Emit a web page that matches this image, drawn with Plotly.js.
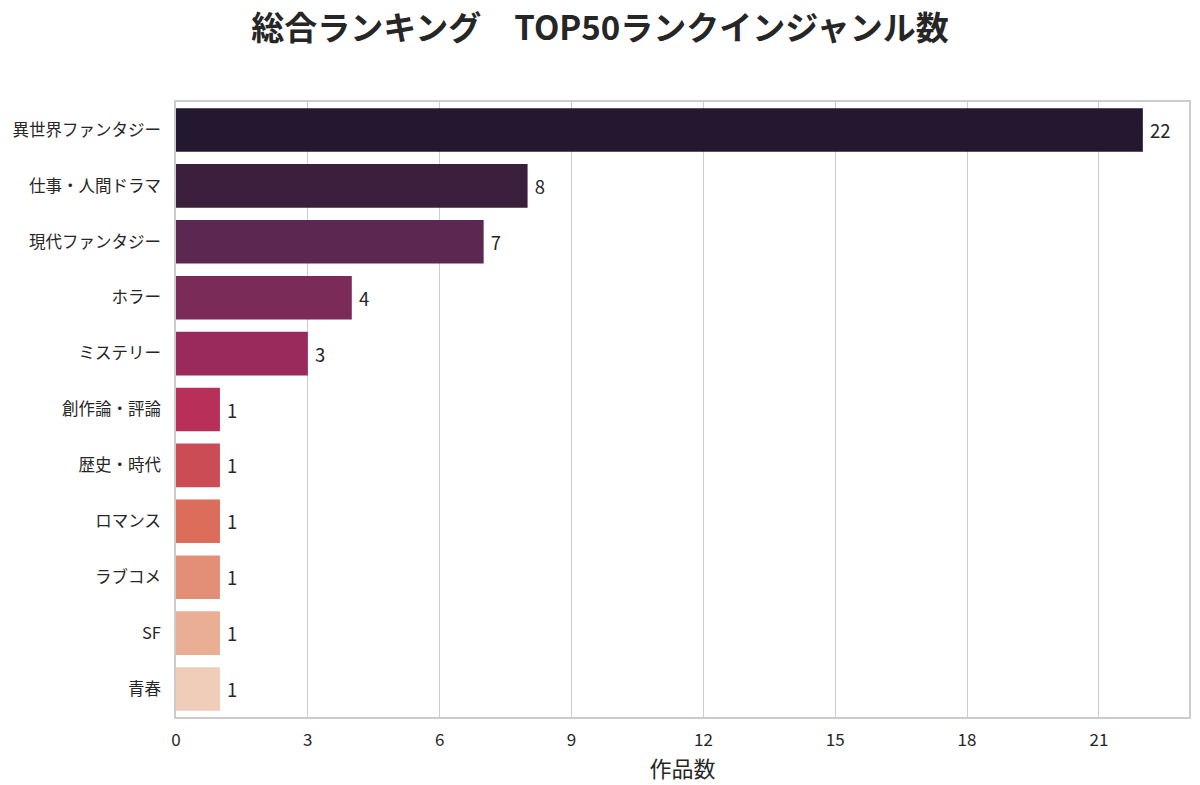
<!DOCTYPE html>
<html>
<head>
<meta charset="utf-8">
<script src="https://cdn.plot.ly/plotly-3.0.1.min.js"></script>
<style>
  body { margin: 0; background: #fff; }
  #chart { width: 1200px; height: 785px; }
</style>
</head>
<body>
<div id="chart"></div>
<script>
// genre counts in the overall ranking top 50
let genres = ['異世界ファンタジー', '仕事・人間ドラマ', '現代ファンタジー', 'ホラー', 'ミステリー',
              '創作論・評論', '歴史・時代', 'ロマンス', 'ラブコメ', 'SF', '青春'];
let counts = [22, 8, 7, 4, 3, 1, 1, 1, 1, 1, 1];
let barColors = ['#231830', '#3c1f3c', '#5c2750', '#7a2b58', '#992a5b', '#b8305a',
                 '#cc4c55', '#dc6d5a', '#e38f77', '#e9ae94', '#efcdb8'];
let xTicks = [0, 3, 6, 9, 12, 15, 18, 21];

let font = '"Noto Sans CJK JP", "Noto Sans", sans-serif';

var data = [{
    type: 'bar',
    orientation: 'h',
    x: counts,
    y: genres,
    marker: {
        color: barColors,
        line: {width: 0}
    },
    // leading space gives the small gap seen between bar end and label
    text: counts.map(c => '\u00a0' + c),
    textposition: 'outside',
    cliponaxis: false,
    textfont: {family: font, size: 18.5, color: '#262626'},
    hoverinfo: 'x+y'
}];

var layout = {
    width: 1200,
    height: 785,
    paper_bgcolor: '#ffffff',
    plot_bgcolor: '#ffffff',
    margin: {l: 176, r: 11, t: 102, b: 68},
    bargap: 0.22,
    showlegend: false,
    title: {
        text: '<b>総合ランキング　TOP50ランクインジャンル数</b>',
        x: 0.5,
        xanchor: 'center',
        y: 0.964,
        yanchor: 'middle',
        font: {family: font, size: 33, color: '#262626'}
    },
    xaxis: {
        range: [0, 23.05],
        tickvals: xTicks,
        showgrid: true,
        gridcolor: '#cccccc',
        gridwidth: 1.2,
        zeroline: false,
        showline: true,
        linecolor: '#cccccc',
        linewidth: 1.5,
        mirror: true,
        ticks: '',
        ticklabelstandoff: 7,
        tickfont: {family: font, size: 17, color: '#262626'},
        title: {text: '作品数', font: {family: font, size: 22, color: '#262626'}, standoff: 0}
    },
    yaxis: {
        type: 'category',
        autorange: 'reversed',
        showgrid: false,
        zeroline: false,
        showline: true,
        linecolor: '#cccccc',
        linewidth: 1.5,
        mirror: true,
        ticks: '',
        ticklabelstandoff: 10,
        tickfont: {family: font, size: 16.5, color: '#262626'}
    }
};

Plotly.newPlot('chart', data, layout, {displayModeBar: false});
</script>
</body>
</html>
